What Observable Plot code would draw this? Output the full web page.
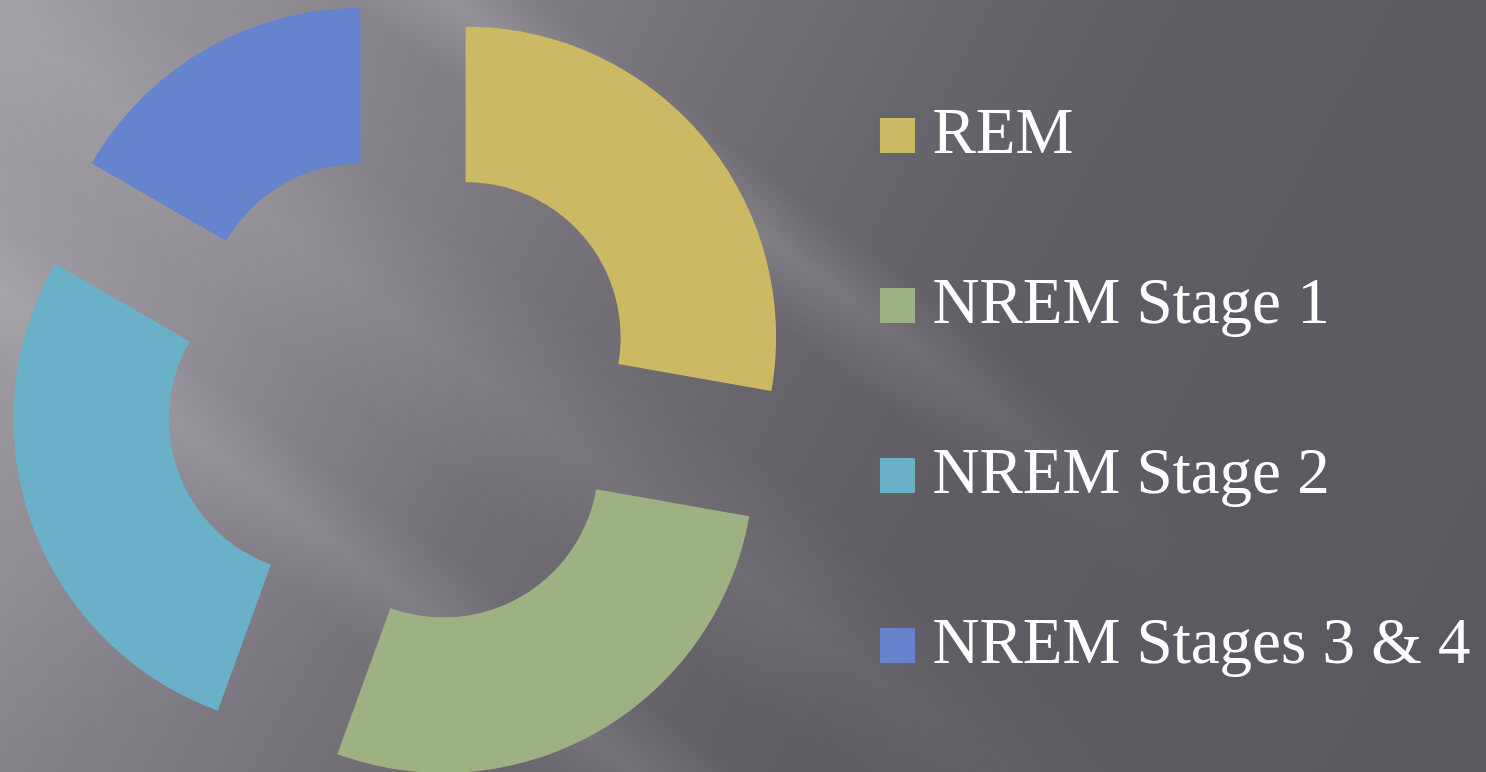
<!DOCTYPE html>
<html>
<head>
<meta charset="utf-8">
<script src="https://cdn.jsdelivr.net/npm/d3@7"></script>
<script src="https://cdn.jsdelivr.net/npm/@observablehq/plot@0.6"></script>
<style>
html, body { margin: 0; padding: 0; background: #5b5960; }
#chart {
  width: 1486px; height: 772px; position: relative; overflow: hidden;
  background:
    radial-gradient(ellipse 520px 420px at 0px 330px, rgba(255,255,255,0.10), rgba(255,255,255,0) 100%),
    linear-gradient(118deg, #9c99a0 0%, #8a878e 18%, #76737a 36%, #68666c 50%, #5f5d63 64%, #5a585e 100%);
}
#chart::before {
  content: ""; position: absolute; left: 0; top: 0; width: 100%; height: 100%;
  background:
    linear-gradient(37deg, rgba(255,255,255,0) 54.5%, rgba(255,255,255,0.15) 58.8%, rgba(255,255,255,0) 62.5%),
    linear-gradient(37deg, rgba(255,255,255,0) 21%, rgba(255,255,255,0.10) 25.4%, rgba(255,255,255,0) 29.5%),
    linear-gradient(37deg, rgba(255,255,255,0) 33%, rgba(255,255,255,0.07) 40%, rgba(255,255,255,0) 47%);
  -webkit-mask-image: linear-gradient(to right, #000 0%, #000 52%, rgba(0,0,0,0) 80%);
  mask-image: linear-gradient(to right, #000 0%, #000 52%, rgba(0,0,0,0) 80%);
}
#chart svg { position: absolute; left: 0; top: 0; background: transparent; }
</style>
</head>
<body>
<div id="chart"></div>
<script>
// ---- data ----
const stages = ["REM", "NREM Stage 1", "NREM Stage 2", "NREM Stages 3 & 4"];
const shares = [25, 25, 25, 15];
const colors = ["#CCB964", "#9DB183", "#6AB0C9", "#6683CD"];

// ---- layout (pixels) ----
const W = 1486, H = 772;
const cx = 401.5, cy = 390, R = 310.5, r = 155, explode = 83;
const legendX = 932, legendSquareX = 897, legendBase = 153, legendStep = 170;

const table = stages.map((s, i) => ({stage: s, share: shares[i]}));
const arcs = d3.pie().sort(null).value(d => d.share)(table);

// polygon outline of each exploded ring slice, derived from the pie angles
const pts = [];
for (const a of arcs) {
  const mid = (a.startAngle + a.endAngle) / 2;
  const ox = cx + explode * Math.sin(mid), oy = cy - explode * Math.cos(mid);
  const n = 90;
  for (let k = 0; k <= n; k++) {
    const t = a.startAngle + (a.endAngle - a.startAngle) * k / n;
    pts.push({stage: a.data.stage, x: ox + R * Math.sin(t), y: oy - R * Math.cos(t)});
  }
  for (let k = n; k >= 0; k--) {
    const t = a.startAngle + (a.endAngle - a.startAngle) * k / n;
    pts.push({stage: a.data.stage, x: ox + r * Math.sin(t), y: oy - r * Math.cos(t)});
  }
}

const legendRows = stages.map((s, i) => ({stage: s, base: legendBase + legendStep * i}));

const plot = Plot.plot({
  width: W, height: H,
  margin: 0,
  style: {background: "transparent", overflow: "visible"},
  x: {domain: [0, W], range: [0, W], axis: null},
  y: {domain: [0, H], range: [0, H], axis: null},
  color: {type: "ordinal", domain: stages, range: colors},
  marks: [
    Plot.line(pts, {x: "x", y: "y", z: "stage", fill: "stage", stroke: "none", curve: "linear-closed"}),
    Plot.dot(legendRows, {x: () => legendSquareX, y: d => d.base - 18, symbol: "square", r: 19.8, fill: "stage", stroke: "none"}),
    Plot.text(legendRows, {
      x: () => legendX, y: d => d.base - 21, text: "stage",
      textAnchor: "start", lineAnchor: "middle",
      fill: "white", fontSize: 65, fontFamily: "Liberation Serif"
    })
  ]
});
document.getElementById("chart").appendChild(plot);
</script>
</body>
</html>
